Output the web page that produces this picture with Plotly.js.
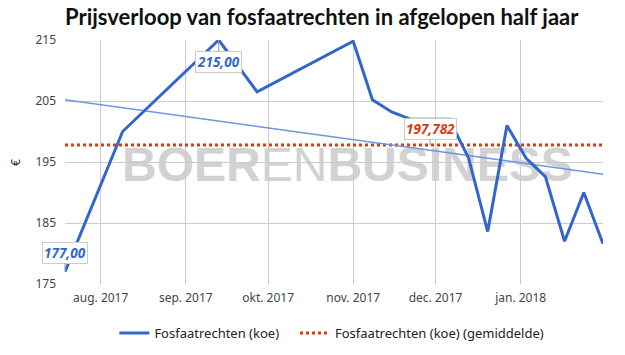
<!DOCTYPE html>
<html>
<head>
<meta charset="utf-8">
<script src="https://cdn.plot.ly/plotly-3.0.1.min.js"></script>
<style>html,body{margin:0;padding:0;background:#fff}#chart{width:625px;height:355px}</style>
</head>
<body>
<div id="chart"></div>
<script>
// Data
const dates = ["2017-07-19","2017-08-09","2017-09-13","2017-09-27","2017-11-01","2017-11-08","2017-11-15","2017-11-22","2017-11-29","2017-12-06","2017-12-13","2017-12-20","2017-12-27","2018-01-03","2018-01-10","2018-01-17","2018-01-24","2018-01-31"];
const prices = [177.0, 200.0, 215.0, 206.5, 214.8, 205.2, 203.2, 202.0, 202.0, 202.0, 195.7, 183.6, 201.0, 195.6, 192.6, 182.0, 190.0, 181.6];
const meanValue = 197.782;
const rangeDates = ["2017-07-19","2018-01-31"];
const trendValues = [205.2, 193.0];
const tickDates = ["2017-08-01","2017-09-01","2017-10-01","2017-11-01","2017-12-01","2018-01-01"];
const tickLabels = ["aug. 2017","sep. 2017","okt. 2017","nov. 2017","dec. 2017","jan. 2018"];
const yTicks = [175, 185, 195, 205, 215];
const yTitle = "€";
const seriesName = "Fosfaatrechten (koe)";
const meanName = "Fosfaatrechten (koe) (gemiddelde)";

const FONT = "'Noto Sans', 'Liberation Sans', sans-serif";
const TFONT = "Lato, 'Liberation Sans', sans-serif";
const BLUE = "#3366cc";
const RED = "#dc3912";

const traces = [
  {x: rangeDates, y: [meanValue, meanValue], type: "scatter", mode: "lines", name: meanName,
   legend: "legend2", line: {color: RED, width: 3, dash: "dot"}, hoverinfo: "skip"},
  {x: rangeDates, y: trendValues, type: "scatter", mode: "lines", showlegend: false,
   line: {color: "#6f94e0", width: 1.5}, hoverinfo: "skip"},
  {x: dates, y: prices, type: "scatter", mode: "lines", name: seriesName,
   legend: "legend", line: {color: BLUE, width: 3}}
];

function lbl(x, y, text, color, ay) {
  return {x: x, y: y, xref: "x", yref: "y", text: "<b><i>" + text + "</i></b>",
    showarrow: true, arrowhead: 0, arrowwidth: 1, arrowcolor: "#999", ax: 0, ay: ay,
    font: {family: FONT, size: 13.5, color: color},
    bgcolor: "#fff", bordercolor: "#ccc", borderwidth: 1, borderpad: 1};
}

const legendFont = {family: FONT, size: 13, color: "#222"};

const layout = {
  width: 625, height: 355,
  margin: {l: 65, r: 22, t: 40, b: 71, autoexpand: false},
  paper_bgcolor: "#fff", plot_bgcolor: "#fff",
  hovermode: false,
  title: {text: "<b>Prijsverloop van fosfaatrechten in afgelopen half jaar</b>",
    font: {family: TFONT, size: 22, color: "#111"}, xref: "paper", x: 0, xanchor: "left",
    yref: "container", y: 0.972, yanchor: "top"},
  xaxis: {type: "date", range: rangeDates, tickvals: tickDates, ticktext: tickLabels,
    showgrid: true, gridcolor: "#ccc", gridwidth: 1, zeroline: false, showline: false,
    automargin: false, ticklabelstandoff: 5,
    tickfont: {family: FONT, size: 12, color: "#444"}, ticks: ""},
  yaxis: {range: [175, 215], tickvals: yTicks, ticktext: yTicks.map(String),
    showgrid: true, gridcolor: "#ccc", zeroline: false, showline: false, ticks: "",
    automargin: false, ticklabelstandoff: 8,
    tickfont: {family: FONT, size: 12, color: "#444"}},
  legend: {orientation: "h", xref: "container", x: 0.183, xanchor: "left", y: -0.14, yanchor: "top",
    itemwidth: 30, font: legendFont},
  legend2: {orientation: "h", xref: "container", x: 0.472, xanchor: "left", y: -0.14, yanchor: "top",
    itemwidth: 30, font: legendFont},
  shapes: [{type: "rect", xref: "paper", yref: "paper", x0: 0.125, x1: 0.925, y0: 0.412, y1: 0.612,
    layer: "below", line: {width: 0}, fillcolor: "rgba(0,0,0,0)",
    label: {text: "<b>BOER</b>EN<b>BUSINESS</b>", textposition: "middle center",
      font: {family: "'Liberation Sans', sans-serif", size: 48, color: "#d2d2d2"}}}],
  annotations: [
    {text: yTitle, xref: "paper", yref: "paper", x: -0.093, y: 0.5, xanchor: "center", yanchor: "middle",
     textangle: -90, showarrow: false, font: {family: FONT, size: 12, color: "#222"}},
    lbl("2017-09-13", 215, "215,00", BLUE, 22),
    lbl("2017-07-19", 177, "177,00", BLUE, -19),
    lbl("2017-11-29", meanValue, "197,782", RED, -16)
  ]
};

Plotly.newPlot("chart", traces, layout, {displayModeBar: false, staticPlot: true});
</script>
</body>
</html>
